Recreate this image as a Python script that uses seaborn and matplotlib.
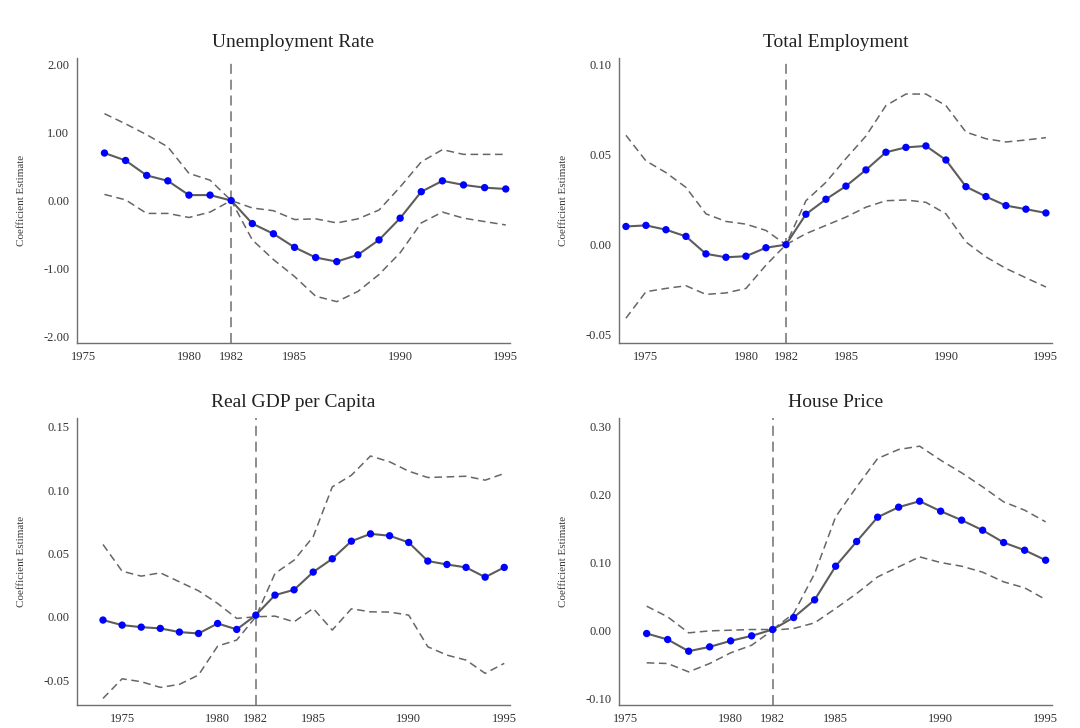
import numpy as np
import pandas as pd
import seaborn as sns
import matplotlib
matplotlib.use("Agg")
import matplotlib.pyplot as plt

# ---- Event-study coefficients (estimate, upper and lower confidence bounds) ----
unemp_years = list(range(1976, 1996))
unemp_est = [0.70, 0.59, 0.37, 0.29, 0.08, 0.08, 0.00, -0.34, -0.49, -0.69,
             -0.84, -0.90, -0.80, -0.58, -0.26, 0.13, 0.29, 0.23, 0.19, 0.17]
unemp_hi = [1.28, 1.13, 0.97, 0.79, 0.40, 0.30, 0.00, -0.11, -0.15, -0.28,
            -0.27, -0.33, -0.27, -0.14, 0.20, 0.57, 0.75, 0.68, 0.68, 0.68]
unemp_lo = [0.09, 0.01, -0.19, -0.19, -0.25, -0.17, 0.00, -0.58, -0.87, -1.12,
            -1.41, -1.49, -1.34, -1.09, -0.77, -0.33, -0.17, -0.26, -0.31, -0.36]

emp_years = list(range(1974, 1996))
emp_est = [0.0101, 0.0107, 0.0083, 0.0046, -0.0051, -0.0070, -0.0064, -0.0017,
           0.0000, 0.0169, 0.0252, 0.0325, 0.0415, 0.0513, 0.0540, 0.0548,
           0.0470, 0.0322, 0.0267, 0.0217, 0.0197, 0.0176]
emp_hi = [0.0607, 0.0465, 0.0400, 0.0318, 0.0171, 0.0129, 0.0114, 0.0079,
          0.0000, 0.0244, 0.0346, 0.0478, 0.0603, 0.0772, 0.0836, 0.0836,
          0.0772, 0.0625, 0.0588, 0.0570, 0.0581, 0.0594]
emp_lo = [-0.0408, -0.0261, -0.0243, -0.0228, -0.0276, -0.0268, -0.0243, -0.0114,
          0.0000, 0.0061, 0.0107, 0.0153, 0.0208, 0.0244, 0.0248, 0.0235,
          0.0171, 0.0015, -0.0068, -0.0132, -0.0184, -0.0235]

gdp_years = list(range(1974, 1996))
gdp_est = [-0.0026, -0.0066, -0.0082, -0.0092, -0.0121, -0.0132, -0.0053, -0.0100,
           0.0013, 0.0171, 0.0213, 0.0353, 0.0458, 0.0597, 0.0655, 0.0640,
           0.0587, 0.0440, 0.0413, 0.0390, 0.0313, 0.0390]
gdp_hi = [0.0571, 0.0360, 0.0321, 0.0347, 0.0276, 0.0205, 0.0105, -0.0013,
          0.0000, 0.0342, 0.0447, 0.0632, 0.1026, 0.1118, 0.1270, 0.1224,
          0.1150, 0.1100, 0.1105, 0.1110, 0.1079, 0.1132]
gdp_lo = [-0.0645, -0.0490, -0.0513, -0.0558, -0.0534, -0.0460, -0.0232, -0.0184,
          0.0000, 0.0005, -0.0040, 0.0066, -0.0105, 0.0063, 0.0039, 0.0037,
          0.0013, -0.0237, -0.0303, -0.0342, -0.0447, -0.0368]

house_years = list(range(1976, 1996))
house_est = [-0.0049, -0.0137, -0.0309, -0.0245, -0.0157, -0.0083, 0.0010, 0.0186,
             0.0446, 0.0941, 0.1304, 0.1662, 0.1809, 0.1897, 0.1750, 0.1618,
             0.1470, 0.1289, 0.1176, 0.1029]
house_hi = [0.0353, 0.0196, -0.0039, -0.0010, 0.0000, 0.0010, 0.0010, 0.0245,
            0.0833, 0.1667, 0.2108, 0.2525, 0.2657, 0.2706, 0.2500, 0.2314,
            0.2108, 0.1887, 0.1765, 0.1593]
house_lo = [-0.0480, -0.0490, -0.0613, -0.0490, -0.0333, -0.0221, 0.0000, 0.0025,
            0.0108, 0.0319, 0.0539, 0.0784, 0.0931, 0.1078, 0.0995, 0.0941,
            0.0853, 0.0711, 0.0623, 0.0451]

titles = ["Unemployment Rate", "Total Employment", "Real GDP per Capita", "House Price"]
x_ticks = [1975, 1980, 1982, 1985, 1990, 1995]
y_ticks = [[-2.0, -1.0, 0.0, 1.0, 2.0],
           [-0.05, 0.0, 0.05, 0.10],
           [-0.05, 0.0, 0.05, 0.10, 0.15],
           [-0.10, 0.0, 0.10, 0.20, 0.30]]
y_tick_labels = [["-2.00", "-1.00", "0.00", "1.00", "2.00"],
                 ["-0.05", "0.00", "0.05", "0.10"],
                 ["-0.05", "0.00", "0.05", "0.10", "0.15"],
                 ["-0.10", "0.00", "0.10", "0.20", "0.30"]]
event_year = 1982

panels = [
    (unemp_years, unemp_est, unemp_hi, unemp_lo),
    (emp_years, emp_est, emp_hi, emp_lo),
    (gdp_years, gdp_est, gdp_hi, gdp_lo),
    (house_years, house_est, house_hi, house_lo),
]

# Axes placement and limits
positions = [[0.0713, 0.5288, 0.4009, 0.3915],
             [0.5731, 0.5288, 0.4009, 0.3915],
             [0.0713, 0.0316, 0.4009, 0.3942],
             [0.5731, 0.0316, 0.4009, 0.3942]]
x_limits = [(1974.7, 1995.2), (1973.65, 1995.3), (1972.64, 1995.3), (1974.68, 1995.3)]
y_limits = [(-2.1, 2.1), (-0.0546, 0.1036), (-0.0697, 0.157), (-0.110, 0.312)]

sns.set_theme(style="white")
plt.rcParams["font.family"] = ["Liberation Serif", "DejaVu Serif"]

fig = plt.figure(figsize=(10.8, 7.28), dpi=100)
fig.patch.set_facecolor("white")

axis_grey = "#707070"
line_grey = "#5c5c5c"
band_grey = "#666666"

for i, (years, est, hi, lo) in enumerate(panels):
    ax = fig.add_axes(positions[i])
    df = pd.DataFrame({"year": years, "est": est, "hi": hi, "lo": lo})

    ax.axvline(event_year, color="#7a7a7a", lw=1.2, ls=(0, (6, 3.5)), zorder=1)
    sns.lineplot(data=df, x="year", y="hi", ax=ax, color=band_grey, lw=1.1,
                 linestyle=(0, (5, 3)), zorder=2)
    sns.lineplot(data=df, x="year", y="lo", ax=ax, color=band_grey, lw=1.1,
                 linestyle=(0, (5, 3)), zorder=2)
    sns.lineplot(data=df, x="year", y="est", ax=ax, color=line_grey, lw=1.5, zorder=3)
    sns.scatterplot(data=df, x="year", y="est", ax=ax, color="#0000ff", s=28,
                    edgecolor="none", zorder=4)

    ax.set_xlim(*x_limits[i])
    ax.set_ylim(*y_limits[i])
    ax.set_xticks(x_ticks)
    ax.set_xticklabels([str(t) for t in x_ticks])
    ax.set_yticks(y_ticks[i])
    ax.set_yticklabels(y_tick_labels[i])
    ax.set_xlabel("")
    ax.set_ylabel("Coefficient Estimate", fontsize=8, color="#3a3a3a")
    ax.yaxis.set_label_coords(-0.118, 0.5)
    ax.set_title(titles[i], fontsize=14, color="#222222", pad=8)

    for side in ["top", "right"]:
        ax.spines[side].set_visible(False)
    for side in ["left", "bottom"]:
        ax.spines[side].set_color(axis_grey)
        ax.spines[side].set_linewidth(1.0)
    ax.tick_params(axis="both", direction="out", length=3, width=0.8,
                   colors=axis_grey, labelsize=9, labelcolor="#333333", pad=2.5)
    ax.set_facecolor("white")

fig.savefig("out.png", dpi=100, facecolor="white")
